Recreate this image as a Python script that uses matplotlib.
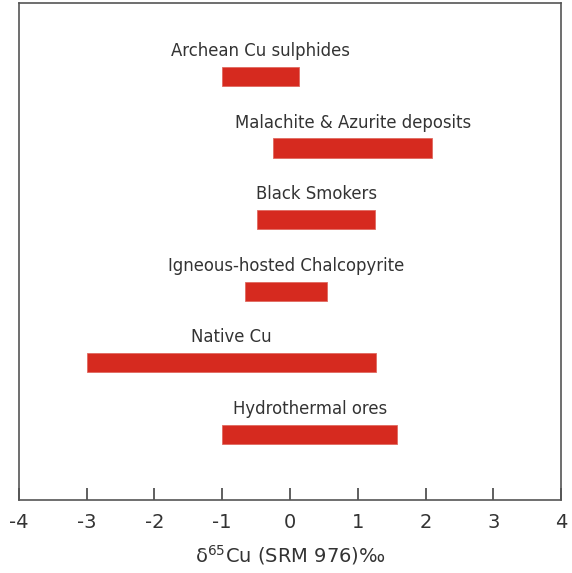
import matplotlib
matplotlib.use("Agg")
import matplotlib.pyplot as plt

# deposit types, top to bottom
labels = ['Archean Cu sulphides',
          'Malachite & Azurite deposits',
          'Black Smokers',
          'Igneous-hosted Chalcopyrite',
          'Native Cu',
          'Hydrothermal ores']
range_min = [-1.0, -0.25, -0.48, -0.67, -3.0, -1.0]
range_max = [0.13, 2.1, 1.25, 0.55, 1.27, 1.58]
xticks = [-4, -3, -2, -1, 0, 1, 2, 3, 4]

plt.rcParams['axes.unicode_minus'] = False
plt.rcParams['font.family'] = ['DejaVu Sans']

BAR_COLOR = '#d62a1f'
TEXT_COLOR = '#333333'

fig = plt.figure(figsize=(5.72, 5.73), dpi=100)
ax = fig.add_axes([0.033, 0.127, 0.948, 0.868])

n = len(labels)
for i, (lab, lo, hi) in enumerate(zip(labels, range_min, range_max)):
    y = n - i
    ax.barh(y, hi - lo, left=lo, height=0.27, color=BAR_COLOR,
            edgecolor='#e06a60', linewidth=0.6)
    ax.text((lo + hi) / 2, y + 0.285, lab, ha='center', va='baseline',
            fontsize=11.9, color=TEXT_COLOR)

ax.set_xlim(-4, 4)
ax.set_ylim(0.08, 7.03)
ax.set_xticks(xticks)
ax.set_xticklabels([str(t) for t in xticks], fontsize=14, color=TEXT_COLOR)
ax.set_yticks([])
ax.tick_params(axis='x', direction='in', length=9, width=1.2,
               color='#444444', pad=9)
for sp in ax.spines.values():
    sp.set_color('#555555')
    sp.set_linewidth(1.2)

ax.set_xlabel(r'δ$^{65}$Cu (SRM 976)‰', fontsize=14, color=TEXT_COLOR,
              labelpad=8)

fig.savefig('out.png', dpi=100)
